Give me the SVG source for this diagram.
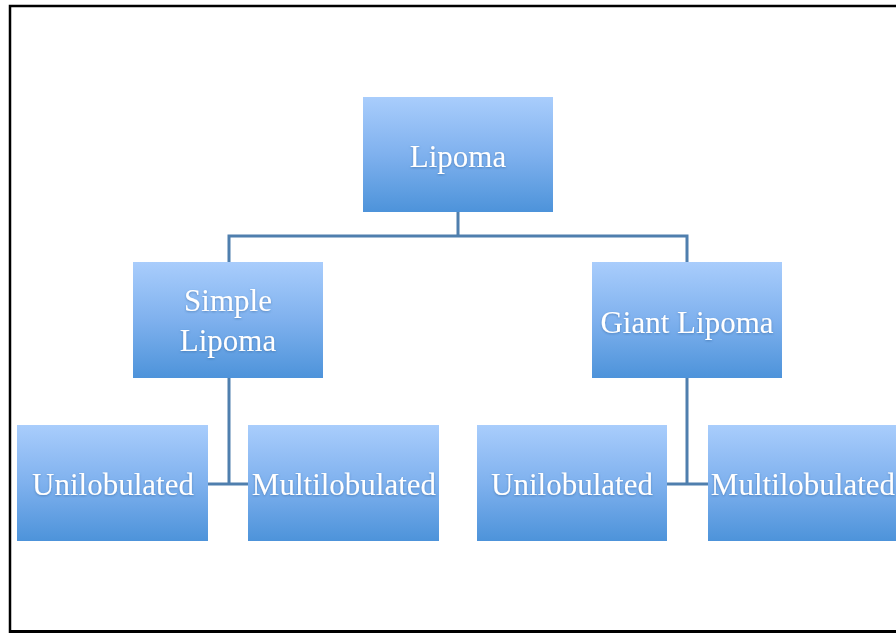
<svg xmlns="http://www.w3.org/2000/svg" width="896" height="633" viewBox="0 0 896 633">
<defs>
<linearGradient id="g" x1="0" y1="0" x2="0" y2="1">
<stop offset="0" stop-color="#a9cdfc"/>
<stop offset="0.5" stop-color="#7fb1ee"/>
<stop offset="1" stop-color="#4d93da"/>
</linearGradient>
<filter id="sh" x="-10%" y="-10%" width="120%" height="130%">
<feDropShadow dx="0" dy="1" stdDeviation="0.8" flood-color="#2a5a90" flood-opacity="0.5"/>
</filter>
</defs>
<style>
.box{fill:url(#g)}
.t{font-family:"Liberation Serif","DejaVu Serif",serif;font-size:31px;fill:#ffffff;text-anchor:middle;filter:url(#sh)}
.c{stroke:#4f7fae;stroke-width:3;fill:none}
</style>
<rect x="0" y="0" width="896" height="633" fill="#ffffff"/>
<path d="M10 633 V6 H900" fill="none" stroke="#000" stroke-width="2.5"/>
<path d="M10 631.5 H900" fill="none" stroke="#000" stroke-width="3"/>
<g id="connectors">
<path class="c" d="M458 212 V236 M229 262 V236 H687 V262"/>
<path class="c" d="M229 378 V484 M208 484 H248"/>
<path class="c" d="M687 378 V484 M667 484 H708"/>
</g>
<g id="n-lipoma"><rect class="box" x="363" y="97" width="190" height="115"/><text class="t" x="458" y="167">Lipoma</text></g>
<g id="n-simple"><rect class="box" x="133" y="262" width="190" height="116"/><text class="t" x="228" y="311">Simple</text><text class="t" x="228" y="351">Lipoma</text></g>
<g id="n-giant"><rect class="box" x="592" y="262" width="190" height="116"/><text class="t" x="687" y="333">Giant Lipoma</text></g>
<g id="n-uni1"><rect class="box" x="17" y="425" width="191" height="116"/><text class="t" x="113" y="495">Unilobulated</text></g>
<g id="n-multi1"><rect class="box" x="248" y="425" width="191" height="116"/><text class="t" x="344" y="495">Multilobulated</text></g>
<g id="n-uni2"><rect class="box" x="477" y="425" width="190" height="116"/><text class="t" x="572" y="495">Unilobulated</text></g>
<g id="n-multi2"><rect class="box" x="708" y="425" width="190" height="116"/><text class="t" x="803" y="495">Multilobulated</text></g>
</svg>
